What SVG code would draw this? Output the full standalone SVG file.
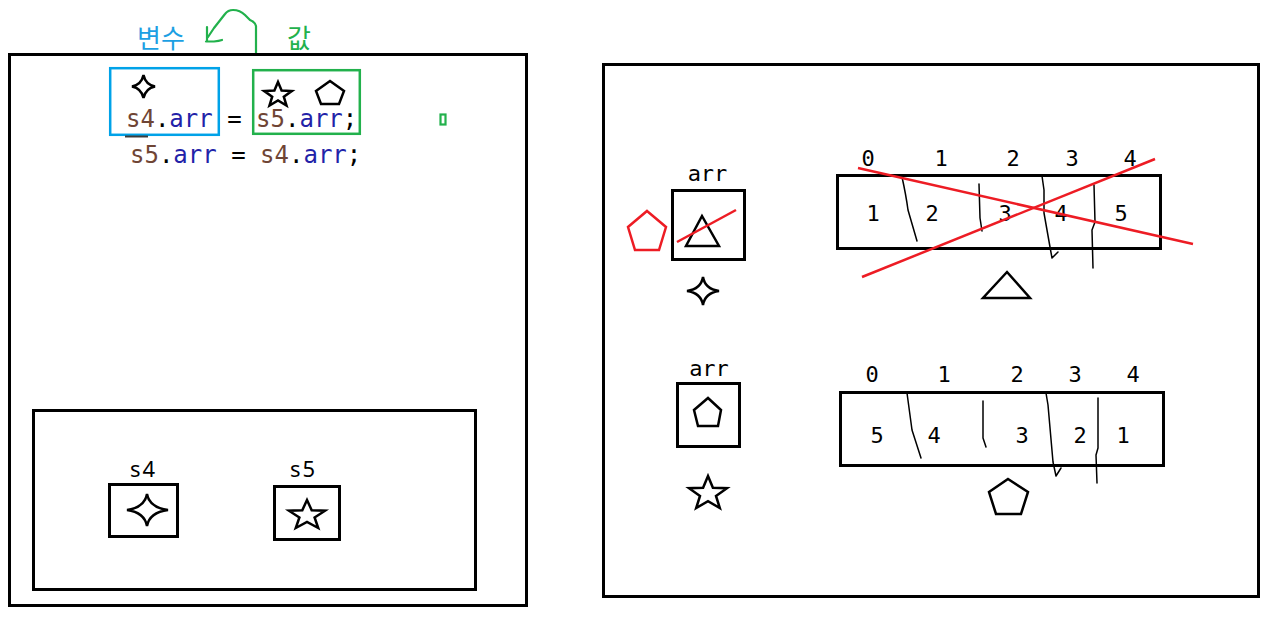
<svg xmlns="http://www.w3.org/2000/svg" width="1280" height="636" viewBox="0 0 1280 636">
<style>
.box{fill:none;stroke:#000;stroke-width:3}
.shape{fill:none;stroke:#000;stroke-width:2.5;stroke-linejoin:miter}
.thin{fill:none;stroke:#000;stroke-width:1.5;stroke-linecap:round;stroke-linejoin:round}
.red{fill:none;stroke:#ed1c24;stroke-width:2.5}
.grn{fill:none;stroke:#22b14c;stroke-width:2.2;stroke-linecap:round;stroke-linejoin:round}
.mono{font-family:"DejaVu Sans Mono","Liberation Mono",monospace;fill:#000}
.code{font-family:"DejaVu Sans Mono","Liberation Mono",monospace;font-size:24px}
.kr{font-family:"Noto Sans CJK KR","Noto Sans",sans-serif;font-size:26px}
.lbl{font-family:"Noto Sans","Liberation Sans",sans-serif;font-size:22px;letter-spacing:2px;fill:#000}
.idx{font-size:22px;text-anchor:middle}
.loc{fill:#6f4535}
.fld{fill:#2222a8}
.pun{fill:#000}
</style>
<rect width="1280" height="636" fill="#fff"/>

<g id="header">
  <text class="kr" x="137" y="48" fill="#1ca0e3">변수</text>
  <text class="kr" x="287" y="48" fill="#22b14c">값</text>
  <path class="grn" d="M256,53 V26 Q255,22 250,20 L245,15 Q240,10 233,10 Q228,10 225,14 L214,28 L208,37"/>
  <path class="grn" d="M207,27 V41 M206,41.5 H214 Q219,41 222,40"/>
</g>

<g id="left-panel">
  <rect class="box" x="9.5" y="54.5" width="517" height="551"/>
</g>

<g id="code">
  <rect id="var-box" x="110.2" y="68.2" width="108.6" height="66.6" fill="none" stroke="#00a2e8" stroke-width="2.5"/>
  <rect id="val-box" x="253.2" y="70.2" width="106.6" height="63.6" fill="none" stroke="#22b14c" stroke-width="2.5"/>
  <path class="shape" d="M143.5,75 Q145.5,84.5 155,86.5 Q145.5,88.5 143.5,98 Q141.5,88.5 132,86.5 Q141.5,84.5 143.5,75 Z"/>
  <polygon class="shape" points="278,82 281.6,90.6 291.8,91 283.8,96.7 286.5,105.5 278,100.5 269.5,105.5 272.2,96.7 264.2,91 274.4,90.6"/>
  <polygon class="shape" points="330,81 344,91 339,104 321,104 316,91"/>
  <text class="code" x="126" y="126.5" xml:space="preserve"><tspan class="loc">s4</tspan><tspan class="pun">.</tspan><tspan class="fld">arr</tspan><tspan class="pun"> = </tspan><tspan class="loc">s5</tspan><tspan class="pun">.</tspan><tspan class="fld">arr</tspan><tspan class="pun">;</tspan></text>
  <text class="code" x="130" y="163" xml:space="preserve"><tspan class="loc">s5</tspan><tspan class="pun">.</tspan><tspan class="fld">arr</tspan><tspan class="pun"> = </tspan><tspan class="loc">s4</tspan><tspan class="pun">.</tspan><tspan class="fld">arr</tspan><tspan class="pun">;</tspan></text>
  <line x1="125" y1="136.5" x2="148" y2="136.5" stroke="#3c3c3c" stroke-width="2"/>
  <rect x="440.5" y="114.5" width="5" height="10" fill="none" stroke="#22b14c" stroke-width="2.2"/>
</g>

<g id="stack">
  <rect class="box" x="33.5" y="410.5" width="442" height="179"/>
</g>

<g id="s4">
  <text class="lbl" x="130" y="477">s4</text>
  <rect class="box" x="109.5" y="484.5" width="68" height="52"/>
  <path class="shape" d="M147,494 Q149.5,507.5 168,510 Q149.5,512.5 147,526 Q144.5,512.5 127,510 Q144.5,507.5 147,494 Z"/>
</g>

<g id="s5">
  <text class="lbl" x="290" y="477">s5</text>
  <rect class="box" x="274.5" y="486.5" width="65" height="53"/>
  <polygon class="shape" points="307,500 311.7,510.2 325.1,510.7 314.6,517.5 318.2,528 307,522 295.8,528 299.4,517.5 288.9,510.7 302.3,510.2"/>
</g>

<g id="right-panel">
  <rect class="box" x="603.5" y="64.5" width="655" height="532"/>
</g>

<g id="arr-top">
  <text class="mono" x="707.5" y="181" font-size="22" text-anchor="middle">arr</text>
  <rect class="box" x="672.5" y="190.5" width="72" height="69"/>
  <polygon class="shape" points="702,216 719,246 686,246"/>
  <line class="red" x1="677" y1="242" x2="736" y2="210"/>
  <polygon points="647,211 666,227 659,250 635,250 628,227" fill="none" stroke="#ed1c24" stroke-width="2.5"/>
  <path class="shape" d="M703,277 Q705,289 719,291 Q705,293 703,305 Q701,293 687,291 Q701,289 703,277 Z"/>
</g>

<g id="array-top">
  <g class="mono idx">
    <text x="868" y="166">0</text><text x="941" y="166">1</text><text x="1013" y="166">2</text><text x="1072" y="166">3</text><text x="1130" y="166">4</text>
  </g>
  <rect class="box" x="837.5" y="175.5" width="323" height="73"/>
  <g class="mono idx">
    <text x="873" y="221">1</text><text x="932" y="221">2</text><text x="1005" y="221">3</text><text x="1061" y="221">4</text><text x="1121" y="221">5</text>
  </g>
  <path class="thin" d="M902,177 Q906,195 908,210 L917,241"/>
  <path class="thin" d="M979,184 L980,218 L982,231"/>
  <path class="thin" d="M1042,176 L1044,190 L1044,213 L1050,247 L1052,258 L1058,252"/>
  <path class="thin" d="M1094,185 L1095,222 L1092,230 L1093,268"/>
  <line class="red" x1="858" y1="168" x2="1193" y2="244"/>
  <line class="red" x1="862" y1="277" x2="1155" y2="159"/>
  <polygon class="shape" points="1007,272 1030,298 983,298"/>
</g>

<g id="arr-bottom">
  <text class="mono" x="709" y="376" font-size="22" text-anchor="middle">arr</text>
  <rect class="box" x="677.5" y="383.5" width="62" height="63"/>
  <polygon class="shape" points="708,398 721,410 718,426 698,426 694,410"/>
  <polygon class="shape" points="708,476 712.9,487.7 727,488.2 716,496 719.8,508 708,501.1 696.2,508 700,496 689,488.2 703.1,487.7"/>
</g>

<g id="array-bottom">
  <g class="mono idx">
    <text x="872" y="382">0</text><text x="944" y="382">1</text><text x="1017" y="382">2</text><text x="1075" y="382">3</text><text x="1133" y="382">4</text>
  </g>
  <rect class="box" x="840.5" y="392.5" width="323" height="73"/>
  <g class="mono idx">
    <text x="877" y="443">5</text><text x="934" y="443">4</text><text x="1022" y="443">3</text><text x="1080" y="443">2</text><text x="1123" y="443">1</text>
  </g>
  <path class="thin" d="M907,393 L912,430 L921,458"/>
  <path class="thin" d="M983,401 L983,438 L986,447"/>
  <path class="thin" d="M1046,393 L1048,405 L1053,462 L1056,476 L1061,468"/>
  <path class="thin" d="M1098,398 L1098,448 L1096,455 L1097,483"/>
  <polygon class="shape" points="1008,479 1028,492 1021,514 996,514 989,492"/>
</g>
</svg>
